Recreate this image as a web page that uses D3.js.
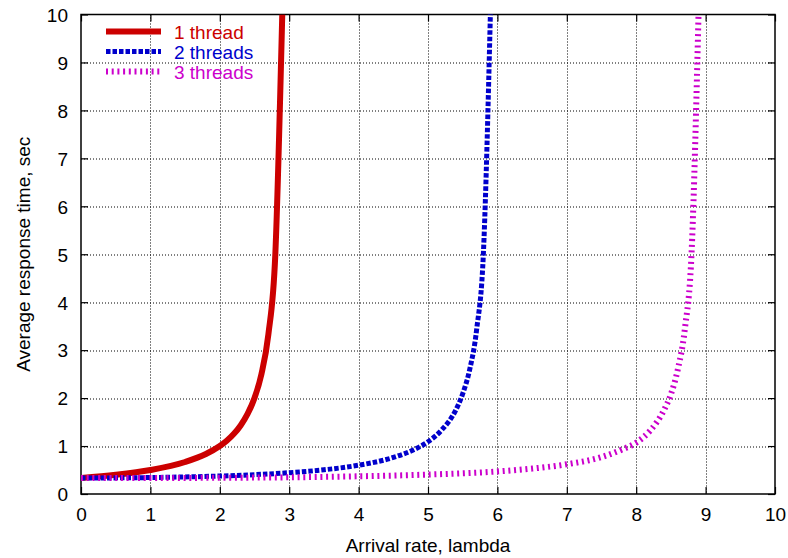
<!DOCTYPE html>
<html>
<head>
<meta charset="utf-8">
<script src="https://cdn.jsdelivr.net/npm/d3@7"></script>
<style>
  body { margin: 0; background: #fff; }
  text { font-family: "Liberation Sans", Arial, sans-serif; }
</style>
</head>
<body>
<div id="chart"></div>
<script>
// data
var seriesNames = ["1 thread", "2 threads", "3 threads"];
var seriesColors = ["#cc0000", "#0000cc", "#cc00cc"];

var oneThreadX = [0, 0.5, 1, 1.5, 1.8, 2, 2.1, 2.2, 2.3, 2.4, 2.5, 2.6, 2.7, 2.8, 2.9];
var oneThreadY = [0.333, 0.4, 0.5, 0.667, 0.833, 1.0, 1.11, 1.25, 1.43, 1.67, 2.0, 2.5, 3.33, 5.0, 10.0];

var twoThreadsX = [0, 0.5, 1, 1.5, 2, 2.5, 3, 3.5, 4, 4.5, 4.8, 5, 5.2, 5.4, 5.5, 5.6, 5.7, 5.8, 5.9];
var twoThreadsY = [0.333, 0.336, 0.343, 0.356, 0.375, 0.403, 0.444, 0.505, 0.6, 0.762, 0.926, 1.09, 1.34, 1.75, 2.09, 2.59, 3.42, 5.08, 10.07];

var threeThreadsX = [0, 1, 2, 3, 4, 5, 6, 6.5, 7, 7.5, 7.8, 8, 8.2, 8.4, 8.5, 8.6, 8.7, 8.8, 8.9];
var threeThreadsY = [0.333, 0.334, 0.338, 0.348, 0.369, 0.405, 0.47, 0.53, 0.62, 0.77, 0.93, 1.07, 1.32, 1.75, 2.08, 2.6, 3.43, 5.1, 10.12];

var xTicks = [0, 1, 2, 3, 4, 5, 6, 7, 8, 9, 10];
var yTicks = [0, 1, 2, 3, 4, 5, 6, 7, 8, 9, 10];

// chart dimensions
var svgWidth = 788;
var svgHeight = 558;

var margin = {
  top: 14.5,
  right: 13,
  bottom: 64,
  left: 81
};

var width = svgWidth - margin.left - margin.right;
var height = svgHeight - margin.top - margin.bottom;

var svg = d3.select("#chart")
  .append("svg")
  .attr("width", svgWidth)
  .attr("height", svgHeight);

var chartGroup = svg.append("g")
  .attr("transform", `translate(${margin.left}, ${margin.top})`);

// scales
var xLinearScale = d3.scaleLinear().domain([0, 10]).range([0, width]);
var yLinearScale = d3.scaleLinear().domain([0, 10]).range([height, 0]);

// dotted grid
chartGroup.append("g")
  .selectAll("line")
  .data(xTicks.slice(1, -1))
  .enter()
  .append("line")
  .attr("x1", d => Math.round(xLinearScale(d)) + 0.5)
  .attr("x2", d => Math.round(xLinearScale(d)) + 0.5)
  .attr("y1", 0)
  .attr("y2", height)
  .attr("stroke", "#000")
  .attr("stroke-width", 1)
  .attr("stroke-dasharray", "1,2");

chartGroup.append("g")
  .selectAll("line")
  .data(yTicks.slice(1, -1))
  .enter()
  .append("line")
  .attr("x1", 0)
  .attr("x2", width)
  .attr("y1", d => Math.round(yLinearScale(d)) + 0.5)
  .attr("y2", d => Math.round(yLinearScale(d)) + 0.5)
  .attr("stroke", "#000")
  .attr("stroke-width", 1)
  .attr("stroke-dasharray", "1,2");

// axes, ticks pointing inward, mirrored on top and right
function styleAxis(g) {
  g.select(".domain").remove();
  g.selectAll(".tick line").attr("stroke", "#000").attr("stroke-width", 1.2);
  g.selectAll("text").attr("fill", "#000").style("font-size", "19px");
}

var bottomAxis = d3.axisBottom(xLinearScale).tickValues(xTicks).tickSizeInner(-7).tickSizeOuter(0).tickPadding(14);
var leftAxis = d3.axisLeft(yLinearScale).tickValues(yTicks).tickSizeInner(-7).tickSizeOuter(0).tickPadding(13);
var topAxis = d3.axisTop(xLinearScale).tickValues(xTicks).tickSizeInner(-7).tickSizeOuter(0).tickFormat("");
var rightAxis = d3.axisRight(yLinearScale).tickValues(yTicks).tickSizeInner(-7).tickSizeOuter(0).tickFormat("");

chartGroup.append("g")
  .attr("transform", `translate(0, ${height})`)
  .call(bottomAxis)
  .call(styleAxis);

chartGroup.append("g")
  .call(leftAxis)
  .call(styleAxis)
  .selectAll("text")
  .attr("dy", "0.36em");

chartGroup.append("g").call(topAxis).call(styleAxis);
chartGroup.append("g").attr("transform", `translate(${width}, 0)`).call(rightAxis).call(styleAxis);

// border
chartGroup.append("rect")
  .attr("width", width)
  .attr("height", height)
  .attr("fill", "none")
  .attr("stroke", "#000")
  .attr("stroke-width", 1.5);

// clip curves to the plot area
svg.append("defs").append("clipPath")
  .attr("id", "plotClip")
  .append("rect")
  .attr("width", width)
  .attr("height", height);

var lineGen = d3.line()
  .x(d => xLinearScale(d[0]))
  .y(d => yLinearScale(d[1]))
  .curve(d3.curveMonotoneX);

function zip(xs, ys) {
  return xs.map((x, i) => [x, ys[i]]);
}

var seriesData = [
  zip(oneThreadX, oneThreadY),
  zip(twoThreadsX, twoThreadsY),
  zip(threeThreadsX, threeThreadsY)
];
var seriesWidths = [6, 5, 6];
var seriesDash = ["none", "4.5,2", "2,3.7"];

var curveGroup = chartGroup.append("g").attr("clip-path", "url(#plotClip)");

seriesData.forEach(function(data, i) {
  curveGroup.append("path")
    .datum(data)
    .attr("d", lineGen)
    .attr("fill", "none")
    .attr("stroke", seriesColors[i])
    .attr("stroke-width", seriesWidths[i])
    .attr("stroke-dasharray", seriesDash[i]);
});

// legend
var legendGroup = chartGroup.append("g")
  .attr("transform", "translate(25, 17)");

seriesNames.forEach(function(name, i) {
  legendGroup.append("line")
    .attr("x1", 0)
    .attr("x2", 55)
    .attr("y1", i * 20)
    .attr("y2", i * 20)
    .attr("stroke", seriesColors[i])
    .attr("stroke-width", seriesWidths[i])
    .attr("stroke-dasharray", seriesDash[i]);
  legendGroup.append("text")
    .attr("x", 68)
    .attr("y", i * 20 + 7)
    .attr("fill", seriesColors[i])
    .style("font-size", "19px")
    .text(name);
});

// axis labels
svg.append("text")
  .attr("x", margin.left + width / 2)
  .attr("y", 552)
  .attr("text-anchor", "middle")
  .style("font-size", "19px")
  .text("Arrival rate, lambda");

svg.append("text")
  .attr("transform", `translate(30, ${margin.top + height / 2}) rotate(-90)`)
  .attr("text-anchor", "middle")
  .style("font-size", "19px")
  .text("Average response time, sec");
</script>
</body>
</html>
